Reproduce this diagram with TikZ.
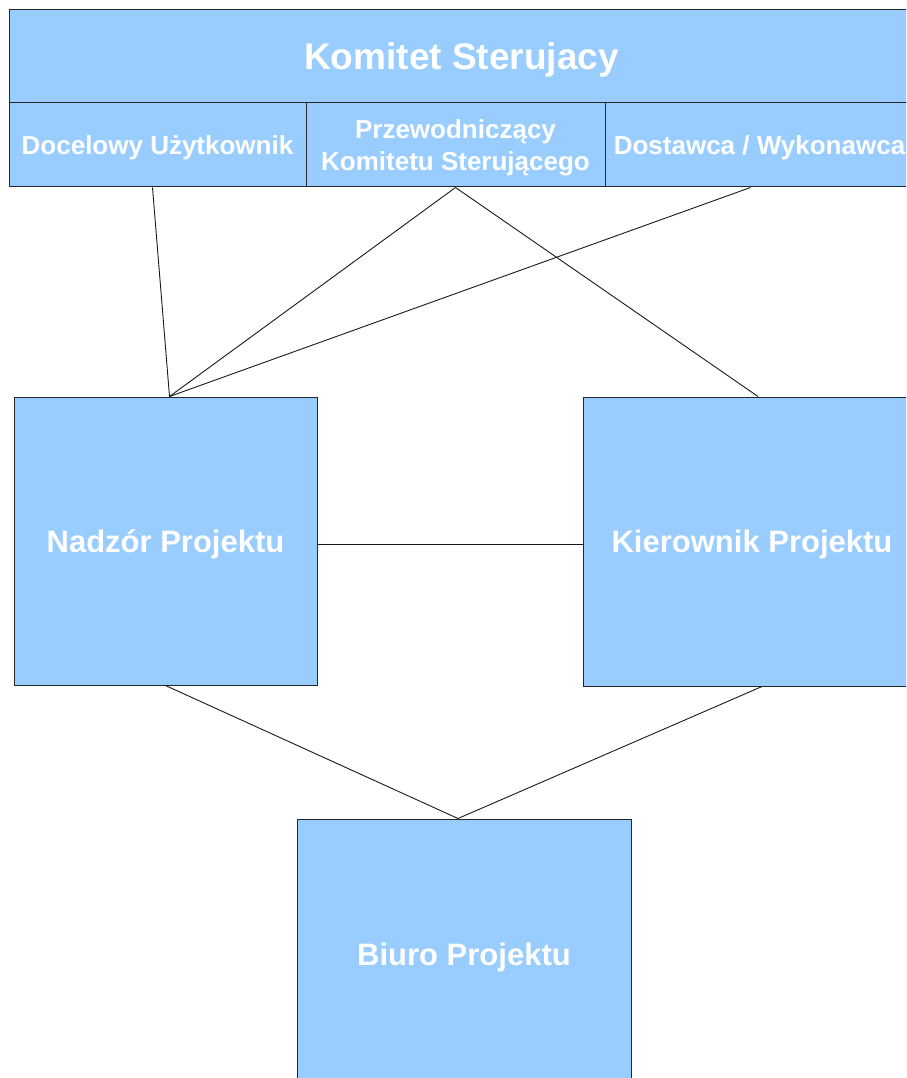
\documentclass[tikz,border=0pt]{standalone}
\usepackage{fontspec}
\setmainfont{Liberation Sans}
\usetikzlibrary{positioning,calc}
\definecolor{boxblue}{HTML}{99CCFF}

\begin{document}
\begin{tikzpicture}[x=1pt,y=-1pt]

\tikzset{box/.style = {shape=rectangle,draw=black!85,fill=boxblue,line width=1pt,text=white,align=center,inner sep=0pt,text depth=0pt}}
\tikzset{conn/.style = {line width=0.9pt,black!90}}
\tikzset{bigtxt/.style = {font=\bfseries\fontsize{37}{44}\selectfont}}
\tikzset{subtxt/.style = {font=\bfseries\fontsize{26}{32}\selectfont}}
\tikzset{midtxt/.style = {font=\bfseries\fontsize{31}{37}\selectfont}}

\useasboundingbox (0,0) rectangle (906,1078);
\clip (0,0) rectangle (906,1078);

% komitet
\node[box,bigtxt,minimum width=905pt,minimum height=93pt] (kom) at (461.5,56.5) {Komitet Sterujacy};
\node[box,subtxt,minimum width=297pt,minimum height=84pt] (doc) at (157.5,145) {Docelowy Użytkownik};
\node[box,subtxt,minimum width=299pt,minimum height=84pt] (prz) at (455.5,145) {Przewodniczący\\Komitetu Sterującego};
\node[box,subtxt,minimum width=309pt,minimum height=84pt] (dost) at (759.5,145) {Dostawca / Wykonawca};

% projekt
\node[box,midtxt,minimum width=303pt,minimum height=288pt] (nadzor) at (165.5,541) {Nadzór Projektu};
\node[box,midtxt,minimum width=338pt,minimum height=289pt] (kier) at (752,541.5) {Kierownik Projektu};
\node[box,midtxt,minimum width=334pt,minimum height=270pt] (biuro) at (464,954) {Biuro Projektu};

%edges
\draw[conn] ([xshift=-5pt]doc.south) -- ([xshift=4pt]nadzor.north);
\draw[conn] (prz.south) -- ([xshift=4pt]nadzor.north);
\draw[conn] ([xshift=-9pt]dost.south) -- ([xshift=4pt]nadzor.north);
\draw[conn] (prz.south) -- ([xshift=6pt]kier.north);
\draw[conn] ([yshift=-3pt]nadzor.east) -- ([yshift=-2.5pt]kier.west);
\draw[conn] (nadzor.south) -- ([xshift=-6pt]biuro.north);
\draw[conn] ([xshift=10pt]kier.south) -- ([xshift=-6pt]biuro.north);

\end{tikzpicture}
\end{document}
